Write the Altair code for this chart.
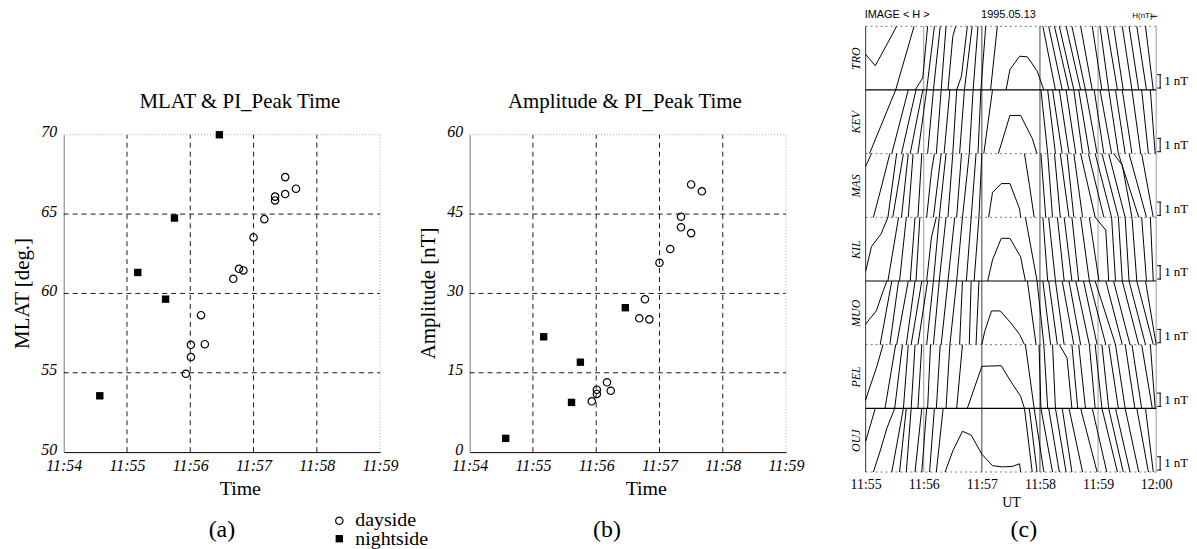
import altair as alt
import pandas as pd

SERIF = "Liberation Serif"
SANS = "Liberation Sans"

# ---------------- panels (a) and (b): PI peak time (minutes after 11:00) ----------------
DAY_TIME = [55.93, 56.01, 56.01, 56.17, 56.23, 56.68, 56.77, 56.84, 57.00, 57.17, 57.34, 57.34, 57.50, 57.50, 57.67]
DAY_MLAT = [54.94, 55.99, 56.76, 58.63, 56.80, 60.92, 61.55, 61.45, 63.53, 64.68, 66.10, 65.86, 67.33, 66.26, 66.60]
DAY_AMP = [9.6, 11.8, 11.0, 13.2, 11.6, 25.3, 28.9, 25.1, 35.8, 38.4, 44.5, 42.5, 50.6, 41.4, 49.3]

NIGHT_TIME = [54.57, 55.17, 55.61, 55.75, 56.46]
NIGHT_MLAT = [53.55, 61.32, 59.64, 64.75, 70.0]
NIGHT_AMP = [2.6, 21.8, 9.4, 17.0, 27.3]

TIME_TICKS = [54, 55, 56, 57, 58, 59]
TIME_GRID = [55, 56, 57, 58]
MLAT_TICKS = [50, 55, 60, 65, 70]
MLAT_GRID = [55, 60, 65]
AMP_TICKS = [0, 15, 30, 45, 60]
AMP_GRID = [15, 30, 45]

LEGEND_LABELS = ["dayside", "nightside"]
PANEL_LABELS = ["(a)", "(b)", "(c)"]
PANEL_TITLES = ["MLAT & PI_Peak Time", "Amplitude & PI_Peak Time"]

# ---------------- panel (c): IMAGE H stackplot, seconds after 11:55 ----------------
STATIONS = ["TRO", "KEV", "MAS", "KIL", "MUO", "PEL", "OUJ"]
UT_TICKS = [0, 60, 120, 180, 240, 300]
UT_LABELS = ["11:55", "11:56", "11:57", "11:58", "11:59", "12:00"]
MINUTE_LINES = [0, 60, 120, 180, 240, 300]
MINUTE_SHADE = ["#333333", "#9a9a9a", "#444444", "#444444", "#9a9a9a", "#9a9a9a"]
SEP_Y = [0, 1, 2, 3, 4, 5, 6, 7]
SEP_STYLE = ["dotted", "solid", "dotted", "solid", "dotted", "dotted", "solid", "dotted"]

# straight traces: (second at bottom of the row, second at top of the row)
LINES = {
    "TRO": [(31, 50), (63, 71), (70, 77), (78, 83), (102, 110), (111, 116), (119, 124), (129, 136),
            (196, 183), (203, 189), (210, 195), (215, 200), (222, 207), (227, 213), (234, 222), (244, 234),
            (251, 242), (260, 249), (266, 256), (275, 265), (282, 272), (290, 280), (297, 289)],
    "KEV": [(4, 31), (27, 44), (37, 52), (46, 59), (54, 63), (64, 70), (73, 78), (81, 87), (90, 94),
            (97, 102), (107, 111), (116, 119), (122, 131),
            (188, 181), (196, 188), (203, 193), (210, 200), (217, 207), (224, 215), (231, 220), (239, 227),
            (246, 236), (254, 242), (261, 251), (268, 258), (275, 265), (284, 275), (292, 285), (299, 294)],
    "MAS": [(23, 32), (28, 39), (37, 44), (44, 49), (54, 58), (70, 78), (76, 83), (85, 90), (94, 99),
            (100, 107), (109, 114), (117, 120),
            (186, 181), (193, 188), (201, 195), (210, 201), (215, 208), (224, 215), (237, 222), (246, 230),
            (254, 237), (261, 244), (268, 251), (282, 261), (290, 272), (297, 285)],
    "KIL": [(23, 34), (35, 42), (46, 51), (52, 56), (70, 76), (76, 83), (85, 92), (94, 100), (104, 109),
            (112, 117),
            (177, 165), (188, 183), (196, 189), (205, 198), (213, 205), (220, 213), (231, 222), (241, 231),
            (258, 254), (265, 261), (272, 268), (280, 275), (290, 285), (297, 294)],
    "MUO": [(15, 27), (25, 34), (32, 44), (42, 51), (47, 58), (54, 64), (63, 70), (70, 76), (78, 85),
            (87, 94), (97, 100), (107, 109), (114, 117),
            (176, 167), (184, 177), (191, 183), (198, 189), (205, 196), (215, 203), (222, 210), (231, 217),
            (239, 225), (248, 231), (258, 237), (265, 248), (273, 256), (282, 265), (289, 272), (297, 280),
            (300, 289)],
    "PEL": [(20, 31), (30, 38), (39, 44), (47, 51), (54, 58), (64, 67), (73, 77), (83, 87), (94, 100),
            (174, 165), (181, 179), (188, 184), (196, 193), (219, 213), (227, 220), (237, 231), (244, 237),
            (251, 244), (261, 251), (268, 258), (278, 268), (285, 275), (296, 285), (299, 294)],
    "OUJ": [(27, 39), (35, 42), (42, 47), (51, 58), (58, 63), (66, 71), (73, 80),
            (172, 164), (177, 169), (184, 174), (193, 181), (200, 189), (207, 196), (213, 203), (224, 210),
            (239, 222), (249, 234), (260, 244), (266, 251), (273, 258), (282, 268), (292, 280), (297, 289)],
}
# bent traces: (second, fraction of row height)
CURVES = {
    "TRO": [[(0, 0.56), (10, 0.38), (32, 1.0)],
            [(51, 0), (59, 0.19), (64, 1)],
            [(85, 0), (90, 0.84), (93, 1)],
            [(94, 0), (99, 0.22), (105, 1)],
            [(145, 0), (149, 0.32), (159, 0.53), (167, 0.52), (177, 0.30), (184, 0)]],
    "KEV": [[(137, 0), (149, 0.60), (160, 0.60), (172, 0.24), (177, 0)]],
    "MAS": [[(0, 0.8), (6, 1)],
            [(8, 0), (16, 0.46), (25, 1)],
            [(63, 0), (68, 0.72), (71, 1)],
            [(127, 0), (131, 0.39), (140, 0.53), (149, 0.53), (159, 0.13), (160, 0)],
            [(174, 0), (169, 0.52), (164, 1)],
            [(275, 0), (265, 0.82), (256, 1)]],
    "KIL": [[(0, 0.15), (6, 0.54), (16, 0.74), (23, 1)],
            [(63, 0), (68, 0.69), (73, 1)],
            [(126, 0), (131, 0.33), (140, 0.67), (149, 0.67), (160, 0.38), (165, 0)],
            [(251, 0), (248, 0.8), (237, 1)]],
    "MUO": [[(0, 0.32), (4, 0.40), (11, 0.53), (18, 0.84), (22, 1)],
            [(120, 0), (123, 0.21), (130, 0.53), (139, 0.53), (150, 0.34), (159, 0.16), (164, 0)]],
    "PEL": [[(0, 0.13), (4, 0.32), (11, 0.63), (18, 1)],
            [(105, 0), (120, 0.66), (140, 0.67), (150, 0.42), (160, 0.19), (164, 0)],
            [(213, 0), (208, 0.79), (200, 1)]],
    "OUJ": [[(0, 0.48), (4, 0.69), (10, 1)],
            [(8, 0), (15, 0.33), (22, 0.69), (30, 1)],
            [(82, 0), (90, 0.33), (100, 0.64), (109, 0.58), (120, 0.28), (131, 0.10), (141, 0.08),
             (152, 0.09), (159, 0.13), (160, 0)]],
}
SCALE_BAR = (0.03, 0.24)


def one(**kw):
    return pd.DataFrame({k: [v] for k, v in kw.items()} or {"d": [0]})


def scatter_panel(day_vals, night_vals, y_ticks, y_grid, y_title, title, label, width, legend):
    ymin, ymax = y_ticks[0], y_ticks[-1]
    xs = alt.Scale(domain=[54, 59], range=[0, 318], nice=False, zero=False)
    ys = alt.Scale(domain=[ymin, ymax], range=[428, 109], nice=False, zero=False)
    x_axis = alt.Axis(values=TIME_TICKS, labelExpr="'11:' + datum.value", grid=False, ticks=False,
                      domainColor="black", domainWidth=1, offset=-20,
                      labelFont=SERIF, labelFontStyle="italic", labelFontSize=16, labelColor="black",
                      labelPadding=5, labelFlush=False,
                      title="Time", titleFont=SERIF, titleFontSize=20, titleFontWeight="normal",
                      titleColor="black", titleX=177, titleY=37, titleBaseline="middle")
    y_axis = alt.Axis(values=y_ticks, grid=False, ticks=False, domainColor="#777777", domainWidth=1,
                      labelFont=SERIF, labelFontStyle="italic", labelFontSize=16, labelColor="black",
                      labelPadding=7, labelFlush=False, labelOffset=-3,
                      title=y_title, titleFont=SERIF, titleFontSize=21, titleFontWeight="normal",
                      titleColor="black", titleX=-41, titleY=268, titleBaseline="middle", titleAlign="center")
    X = alt.X("t:Q", scale=xs, axis=x_axis)
    Y = alt.Y("v:Q", scale=ys, axis=y_axis)

    day = pd.DataFrame({"t": DAY_TIME, "v": day_vals})
    night = pd.DataFrame({"t": NIGHT_TIME, "v": night_vals})

    vgrid = alt.Chart(pd.DataFrame({"t": TIME_GRID})).mark_rule(
        color="black", strokeDash=[5, 4], strokeWidth=0.9).encode(x=X, y=alt.datum(ymin), y2=alt.datum(ymax))
    hgrid = alt.Chart(pd.DataFrame({"v": y_grid})).mark_rule(
        color="black", strokeDash=[5, 4], strokeWidth=0.9).encode(y=Y, x=alt.datum(54), x2=alt.datum(59))
    top = alt.Chart(one()).mark_rule(color="#aaaaaa", strokeDash=[1, 2]).encode(
        x=alt.datum(54), x2=alt.datum(59), y=alt.datum(ymax))
    right = alt.Chart(one()).mark_rule(color="#aaaaaa", strokeDash=[1, 2]).encode(
        x=alt.datum(59), y=alt.datum(ymin), y2=alt.datum(ymax))
    pts_day = alt.Chart(day).mark_point(shape="circle", filled=False, size=55, color="black",
                                        strokeWidth=1.2, opacity=1).encode(x=X, y=Y)
    pts_night = alt.Chart(night).mark_point(shape="square", filled=True, size=55, color="black",
                                            opacity=1).encode(x=X, y=Y)
    ttl = alt.Chart(one(label=title)).mark_text(font=SERIF, fontSize=21, color="black").encode(
        x=alt.value(177 if legend else 156), y=alt.value(76), text="label:N")
    plab = alt.Chart(one(label=label)).mark_text(font=SERIF, fontSize=24, color="black").encode(
        x=alt.value(159 if legend else 138), y=alt.value(506), text="label:N")
    layers = [vgrid, hgrid, top, right, pts_day, pts_night, ttl, plab]
    if legend:
        leg_c = alt.Chart(one()).mark_point(shape="circle", filled=False, size=55, color="black",
                                            strokeWidth=1.2, opacity=1).encode(x=alt.value(277), y=alt.value(497))
        leg_s = alt.Chart(one()).mark_point(shape="square", filled=True, size=55, color="black",
                                            opacity=1).encode(x=alt.value(277), y=alt.value(515))
        leg_t1 = alt.Chart(one(label=LEGEND_LABELS[0])).mark_text(
            font=SERIF, fontSize=20, align="left", baseline="middle", color="black").encode(
            x=alt.value(293), y=alt.value(496), text="label:N")
        leg_t2 = alt.Chart(one(label=LEGEND_LABELS[1])).mark_text(
            font=SERIF, fontSize=20, align="left", baseline="middle", color="black").encode(
            x=alt.value(293), y=alt.value(515), text="label:N")
        layers += [leg_c, leg_s, leg_t1, leg_t2]
    return alt.layer(*layers).properties(width=width, height=448)


panel_a = scatter_panel(DAY_MLAT, NIGHT_MLAT, MLAT_TICKS, MLAT_GRID, "MLAT [deg.]",
                        PANEL_TITLES[0], PANEL_LABELS[0], 327, True)
panel_b = scatter_panel(DAY_AMP, NIGHT_AMP, AMP_TICKS, AMP_GRID, "Amplitude [nT]",
                        PANEL_TITLES[1], PANEL_LABELS[1], 317, False)

# ---------------- panel (c) ----------------
rows = []
lid = 0
nst = len(STATIONS)
for si, name in enumerate(STATIONS):
    r = nst - 1 - si
    for sb, st in LINES[name]:
        rows.append({"id": lid, "k": 0, "s": sb, "y": r})
        rows.append({"id": lid, "k": 1, "s": st, "y": r + 1})
        lid += 1
    for curve in CURVES[name]:
        for k, (s, f) in enumerate(curve):
            rows.append({"id": lid, "k": k, "s": s, "y": r + f})
        lid += 1
traces = pd.DataFrame(rows)

xs_c = alt.Scale(domain=[0, 300], nice=False, zero=False)
ys_c = alt.Scale(domain=[0, 7], nice=False, zero=False)
lab_arr = "[" + ",".join("'%s'" % u for u in UT_LABELS) + "]"
st_arr = "[" + ",".join("'%s'" % s for s in reversed(STATIONS)) + "]"
xc_axis = alt.Axis(values=UT_TICKS, labelExpr=lab_arr + "[round(datum.value / 60)]", grid=False,
                   ticks=False, domain=False, labelFont=SERIF, labelFontSize=14, labelColor="black",
                   labelPadding=6, labelFlush=False,
                   title="UT", titleFont=SERIF, titleFontSize=14, titleFontWeight="normal",
                   titleColor="black", titleY=31, titleBaseline="middle")
yc_axis = alt.Axis(values=[i + 0.5 for i in range(nst)], labelExpr=st_arr + "[floor(datum.value)]",
                   grid=False, ticks=False, domain=False, labelAngle=-90, labelAlign="center",
                   labelBaseline="bottom", labelFont=SERIF, labelFontStyle="italic", labelFontSize=12,
                   labelColor="black", labelPadding=3, title=None)
XC = alt.X("s:Q", scale=xs_c, axis=xc_axis)
YC = alt.Y("y:Q", scale=ys_c, axis=yc_axis)

minute = alt.Chart(pd.DataFrame({"s": MINUTE_LINES, "shade": MINUTE_SHADE})).mark_rule(strokeWidth=1).encode(
    x=XC, y=alt.datum(0), y2=alt.datum(7), color=alt.Color("shade:N", scale=None))
seps = pd.DataFrame({"y": SEP_Y, "style": SEP_STYLE})
sep_solid = alt.Chart(seps).transform_filter("datum.style == 'solid'").mark_rule(
    color="black", strokeWidth=1.2).encode(y=YC, x=alt.datum(0), x2=alt.datum(300))
sep_dot = alt.Chart(seps).transform_filter("datum.style == 'dotted'").mark_rule(
    color="#777777", strokeWidth=1, strokeDash=[2, 3]).encode(y=YC, x=alt.datum(0), x2=alt.datum(300))
trace = alt.Chart(traces).mark_line(color="black", strokeWidth=1).encode(
    x=XC, y=YC, detail="id:N", order="k:Q")

bars = pd.DataFrame({"r": list(range(nst))})
bars["y0"] = bars["r"] + SCALE_BAR[0]
bars["y1"] = bars["r"] + SCALE_BAR[1]
bars["ym"] = (bars["y0"] + bars["y1"]) / 2
bars["txt"] = "1 nT"
bar_v = alt.Chart(bars).mark_rule(color="black", strokeWidth=1).encode(
    x=alt.value(296), y=alt.Y("y0:Q", scale=ys_c), y2="y1:Q")
bar_c0 = alt.Chart(bars).mark_rule(color="black", strokeWidth=1).encode(
    x=alt.value(293), x2=alt.value(297), y=alt.Y("y0:Q", scale=ys_c))
bar_c1 = alt.Chart(bars).mark_rule(color="black", strokeWidth=1).encode(
    x=alt.value(293), x2=alt.value(297), y=alt.Y("y1:Q", scale=ys_c))
bar_t = alt.Chart(bars).mark_text(font=SERIF, fontSize=13, align="left", baseline="middle",
                                  color="black").encode(x=alt.value(300), y=alt.Y("ym:Q", scale=ys_c),
                                                        text="txt:N")

hdr1 = alt.Chart(one(label="IMAGE  < H >")).mark_text(font=SANS, fontSize=11, align="left",
                                                      baseline="middle", color="black").encode(
    x=alt.value(-1), y=alt.value(-11), text="label:N")
hdr2 = alt.Chart(one(label="1995.05.13")).mark_text(font=SANS, fontSize=11, align="left",
                                                    baseline="middle", color="black").encode(
    x=alt.value(116), y=alt.value(-11), text="label:N")
hdr3 = alt.Chart(one(label="H(nT):")).mark_text(font=SANS, fontSize=8, align="left",
                                               baseline="middle", color="black").encode(
    x=alt.value(268), y=alt.value(-10), text="label:N")
hdr_line = alt.Chart(one()).mark_rule(color="black", strokeWidth=1).encode(
    x=alt.value(286), x2=alt.value(293), y=alt.value(-10))
plab_c = alt.Chart(one(label=PANEL_LABELS[2])).mark_text(font=SERIF, fontSize=24, color="black").encode(
    x=alt.value(159), y=alt.value(506), text="label:N")

panel_c = alt.layer(minute, sep_dot, sep_solid, trace, bar_v, bar_c0, bar_c1, bar_t,
                    hdr1, hdr2, hdr3, hdr_line, plab_c).properties(width=292, height=448)

chart = alt.hconcat(panel_a, panel_b, panel_c, spacing=81, bounds="flush").properties(
    padding={"left": 4, "top": 0, "right": 0, "bottom": 0}, background="white"
).configure_view(strokeWidth=0, stroke="transparent")

chart.save("out.html", embed_options={"renderer": "svg", "actions": False})
